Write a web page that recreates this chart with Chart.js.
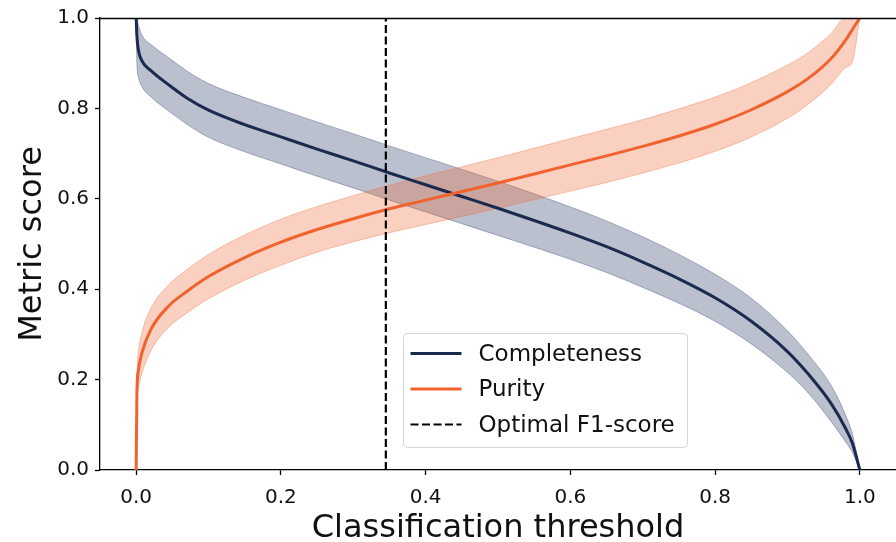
<!DOCTYPE html>
<html>
<head>
<meta charset="utf-8">
<script src="https://cdn.jsdelivr.net/npm/chart.js@4.4.1/dist/chart.umd.min.js"></script>
<style>
  html, body { margin: 0; padding: 0; background: #fff; overflow: hidden; }
  #wrap { width: 896px; height: 542px; position: relative; }
</style>
</head>
<body>
<div id="wrap"><canvas id="metricChart"></canvas></div>
<script>
// classification thresholds (x) and the curves
const thresholds = [0, 0.001, 0.003, 0.008, 0.02, 0.045, 0.07, 0.1, 0.15, 0.2, 0.25, 0.3, 0.35, 0.4, 0.45,
  0.5, 0.55, 0.6, 0.65, 0.7, 0.75, 0.8, 0.85, 0.9, 0.93, 0.96, 0.98, 0.99, 1.0];

const completeness = [1.0, 0.96, 0.93, 0.905, 0.884, 0.852, 0.823, 0.796, 0.764, 0.737, 0.71, 0.684, 0.657, 0.631, 0.605,
  0.579, 0.552, 0.524, 0.494, 0.46, 0.423, 0.381, 0.329, 0.262, 0.21, 0.148, 0.093, 0.058, 0.0];
const completenessHigh = [1.0, 1.0, 0.985, 0.962, 0.942, 0.912, 0.883, 0.855, 0.824, 0.797, 0.77, 0.744, 0.717, 0.691, 0.665,
  0.639, 0.611, 0.582, 0.551, 0.516, 0.477, 0.433, 0.38, 0.308, 0.253, 0.188, 0.123, 0.078, 0.0];
const completenessLow = [1.0, 0.9, 0.87, 0.848, 0.826, 0.794, 0.765, 0.736, 0.704, 0.677, 0.65, 0.624, 0.597, 0.571, 0.545,
  0.519, 0.493, 0.466, 0.437, 0.404, 0.369, 0.329, 0.279, 0.216, 0.168, 0.108, 0.063, 0.038, 0.0];

const purity = [0.0, 0.17, 0.22, 0.259, 0.31, 0.363, 0.395, 0.428, 0.47, 0.504, 0.532, 0.556, 0.578, 0.597, 0.616,
  0.635, 0.655, 0.675, 0.695, 0.716, 0.739, 0.765, 0.797, 0.837, 0.868, 0.91, 0.95, 0.975, 1.0];
const purityHigh = [0.0, 0.2, 0.26, 0.304, 0.357, 0.41, 0.443, 0.477, 0.52, 0.555, 0.583, 0.607, 0.63, 0.651, 0.671,
  0.691, 0.712, 0.733, 0.754, 0.775, 0.799, 0.825, 0.857, 0.896, 0.925, 0.965, 1.0, 1.0, 1.0];
const purityLow = [0.0, 0.14, 0.18, 0.214, 0.263, 0.316, 0.347, 0.379, 0.42, 0.453, 0.482, 0.505, 0.525, 0.543, 0.561,
  0.579, 0.598, 0.617, 0.636, 0.657, 0.679, 0.705, 0.737, 0.778, 0.811, 0.853, 0.89, 0.905, 1.0];

const optimalThreshold = 0.345;

const xTicks = [0, 0.2, 0.4, 0.6, 0.8, 1.0];
const yTicks = [0, 0.2, 0.4, 0.6, 0.8, 1.0];

const NAVY = '#1b2a4f';
const ORANGE = '#f0632e';
const NAVY_BAND = 'rgba(40, 58, 100, 0.32)';
const NAVY_EDGE = 'rgba(40, 58, 100, 0.35)';
const ORANGE_BAND = 'rgba(240, 100, 50, 0.3)';
const ORANGE_EDGE = 'rgba(240, 100, 50, 0.35)';
const FONT = "'DejaVu Sans', sans-serif";

function pts(arr) {
  return thresholds.map((x, i) => ({x: x, y: arr[i]}));
}

const bandStyle = {
  pointRadius: 0,
  borderWidth: 1,
  cubicInterpolationMode: 'monotone',
  label: ''
};

const data = {
  datasets: [
    { ...bandStyle, data: pts(completenessLow), borderColor: NAVY_EDGE, fill: false, order: 10 },
    { ...bandStyle, data: pts(completenessHigh), borderColor: NAVY_EDGE, backgroundColor: NAVY_BAND, fill: '-1', order: 10 },
    { ...bandStyle, data: pts(purityLow), borderColor: ORANGE_EDGE, fill: false, order: 9 },
    { ...bandStyle, data: pts(purityHigh), borderColor: ORANGE_EDGE, backgroundColor: ORANGE_BAND, fill: '-1', order: 9 },
    {
      label: 'Completeness',
      data: pts(completeness),
      borderColor: NAVY,
      borderWidth: 3,
      pointRadius: 0,
      cubicInterpolationMode: 'monotone',
      order: 2
    },
    {
      label: 'Purity',
      data: pts(purity),
      borderColor: ORANGE,
      borderWidth: 3,
      pointRadius: 0,
      cubicInterpolationMode: 'monotone',
      order: 1
    },
    {
      label: 'Optimal F1-score',
      data: [{x: optimalThreshold, y: 0}, {x: optimalThreshold, y: 1}],
      borderColor: '#000',
      borderWidth: 2.2,
      borderDash: [8, 3.5],
      pointRadius: 0,
      order: 0
    }
  ]
};

// top spine + matplotlib style legend box
const frameAndLegend = {
  id: 'frameAndLegend',
  afterDraw(chart) {
    const {ctx, chartArea} = chart;
    ctx.save();
    ctx.strokeStyle = '#000';
    ctx.lineWidth = 1.3;
    ctx.beginPath();
    ctx.moveTo(chartArea.left, chartArea.top + 0.5);
    ctx.lineTo(chartArea.right, chartArea.top + 0.5);
    ctx.stroke();

    const items = chart.data.datasets.filter(d => d.label);
    const bx = chartArea.left + 303.5, by = chartArea.top + 315.5, bw = 284, bh = 114, r = 4;
    ctx.beginPath();
    ctx.roundRect(bx, by, bw, bh, r);
    ctx.fillStyle = 'rgba(255,255,255,0.8)';
    ctx.fill();
    ctx.strokeStyle = '#d4d4d4';
    ctx.lineWidth = 1;
    ctx.stroke();

    ctx.font = '23px ' + FONT;
    ctx.textBaseline = 'middle';
    ctx.textAlign = 'left';
    items.forEach((d, i) => {
      const y = by + 20 + i * 35.5;
      ctx.beginPath();
      ctx.strokeStyle = d.borderColor;
      ctx.lineWidth = d.borderWidth;
      ctx.setLineDash(d.borderDash || []);
      ctx.moveTo(bx + 7, y);
      ctx.lineTo(bx + 58, y);
      ctx.stroke();
      ctx.setLineDash([]);
      ctx.fillStyle = '#111';
      ctx.fillText(d.label, bx + 75, y + 1.5);
    });
    ctx.restore();
  }
};

const config = {
  type: 'line',
  data: data,
  options: {
    responsive: true,
    maintainAspectRatio: false,
    animation: false,
    devicePixelRatio: 1,
    layout: { padding: { top: 18, right: 0, left: 0, bottom: 0 } },
    plugins: {
      legend: { display: false },
      tooltip: { enabled: false }
    },
    scales: {
      x: {
        type: 'linear',
        min: -0.05,
        max: 1.05,
        afterBuildTicks: (scale) => { scale.ticks = xTicks.map(v => ({value: v})); },
        afterFit: (scale) => { scale.height = 72; },
        ticks: {
          autoSkip: false,
          maxRotation: 0,
          padding: 11,
          color: '#111',
          font: { family: FONT, size: 20 },
          callback: (v) => Number(v).toFixed(1)
        },
        grid: { drawOnChartArea: false, drawTicks: true, tickLength: 5, tickWidth: 1.3, tickColor: '#000' },
        border: { display: true, color: '#000', width: 1.3 },
        title: {
          display: true,
          text: 'Classification threshold',
          color: '#111',
          font: { family: FONT, size: 32, lineHeight: 0.85 },
          padding: 0
        }
      },
      y: {
        min: 0,
        max: 1,
        afterBuildTicks: (scale) => { scale.ticks = yTicks.map(v => ({value: v})); },
        afterFit: (scale) => { scale.width = 100; },
        ticks: {
          padding: 6,
          color: '#111',
          font: { family: FONT, size: 20 },
          callback: (v) => Number(v).toFixed(1)
        },
        grid: { drawOnChartArea: false, drawTicks: true, tickLength: 5, tickWidth: 1.3, tickColor: '#000' },
        border: { display: true, color: '#000', width: 1.3 },
        title: {
          display: true,
          text: 'Metric score',
          color: '#111',
          font: { family: FONT, size: 32, lineHeight: 0.85 },
          padding: { top: 19, bottom: 0 }
        }
      }
    }
  },
  plugins: [frameAndLegend]
};

const metricChart = new Chart(document.getElementById('metricChart'), config);
</script>
</body>
</html>
